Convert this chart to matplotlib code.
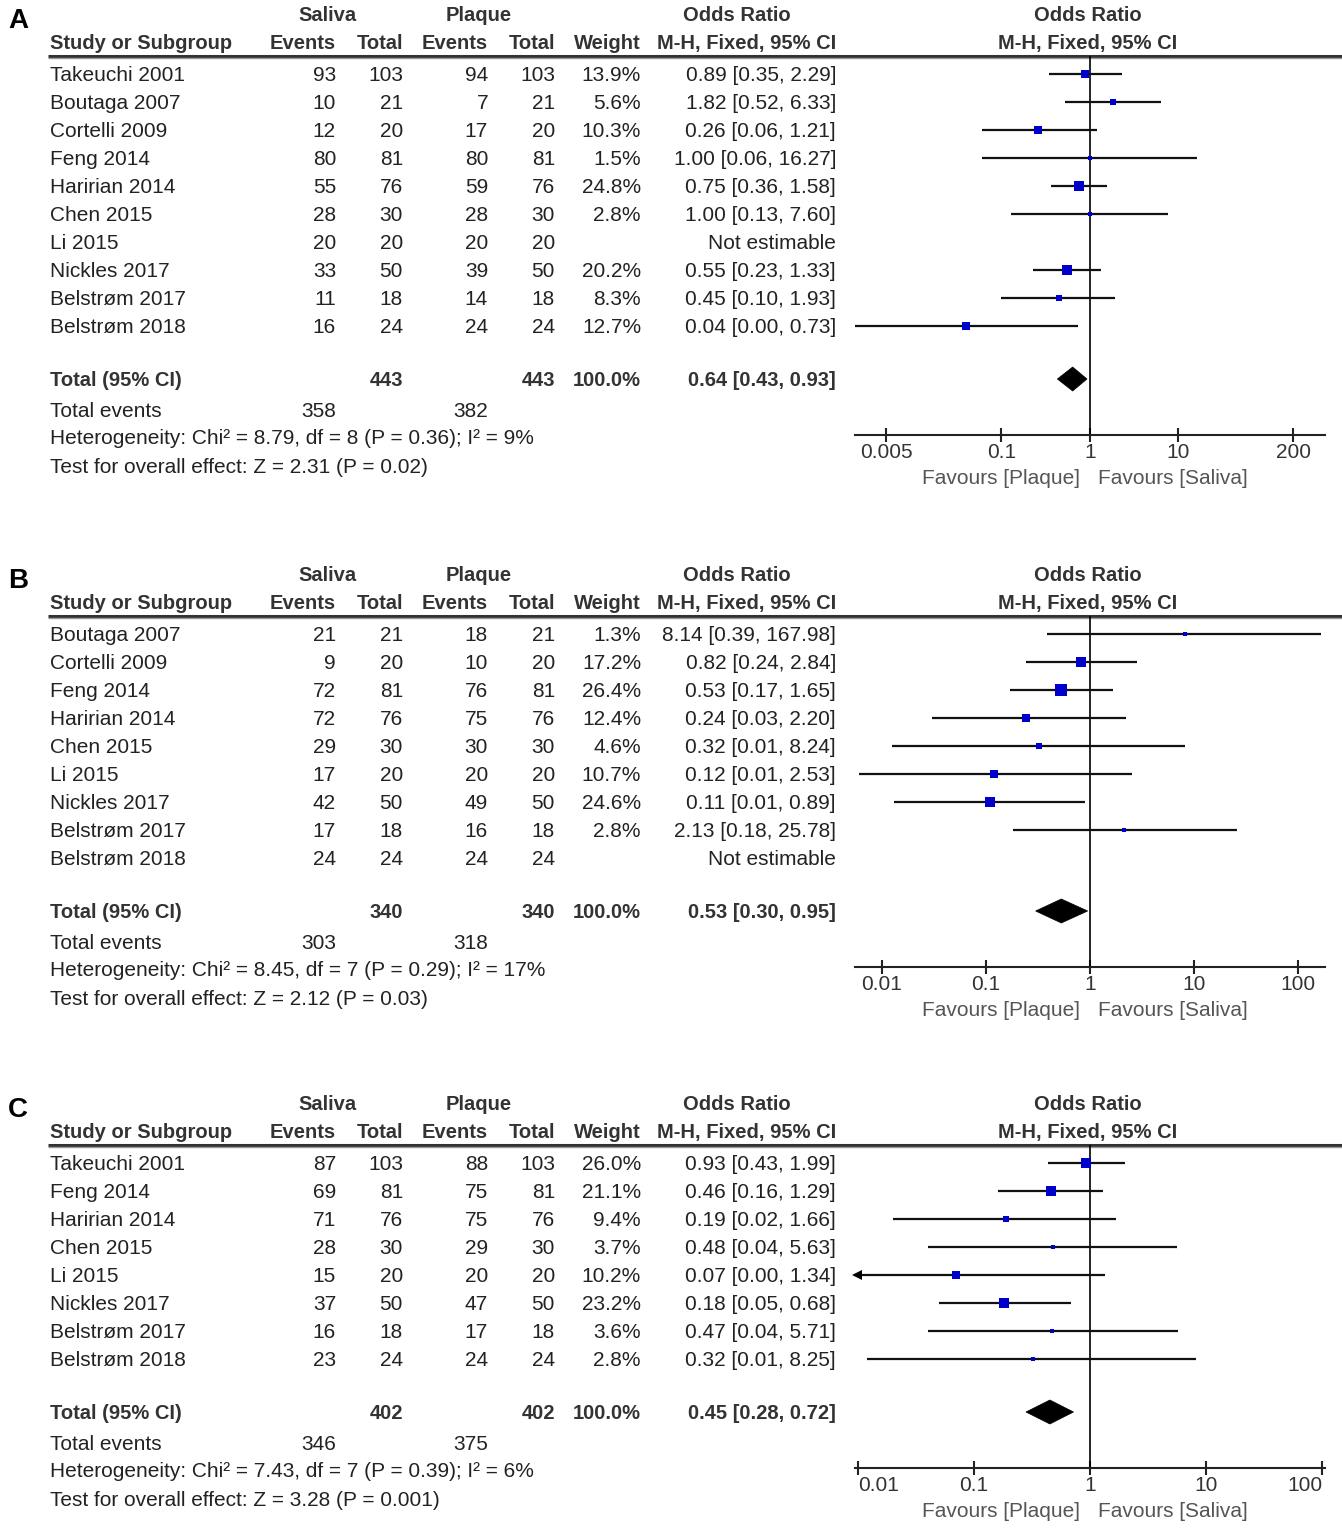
import matplotlib
matplotlib.use('Agg')
import matplotlib.pyplot as plt
from matplotlib.patches import Polygon
from matplotlib.ticker import FixedLocator, FixedFormatter, NullLocator
import numpy as np

W, H = 1342, 1532
plt.rcParams['font.family'] = ['Liberation Sans', 'DejaVu Sans']

# ---------------- Panel A ----------------
a_study = ["Takeuchi 2001", "Boutaga 2007", "Cortelli 2009", "Feng 2014", "Haririan 2014",
           "Chen 2015", "Li 2015", "Nickles 2017", "Belstrøm 2017", "Belstrøm 2018"]
a_sal_ev = [93, 10, 12, 80, 55, 28, 20, 33, 11, 16]
a_sal_tot = [103, 21, 20, 81, 76, 30, 20, 50, 18, 24]
a_pla_ev = [94, 7, 17, 80, 59, 28, 20, 39, 14, 24]
a_pla_tot = [103, 21, 20, 81, 76, 30, 20, 50, 18, 24]
a_weight = [13.9, 5.6, 10.3, 1.5, 24.8, 2.8, None, 20.2, 8.3, 12.7]
a_or = [0.89, 1.82, 0.26, 1.00, 0.75, 1.00, None, 0.55, 0.45, 0.04]
a_lo = [0.35, 0.52, 0.06, 0.06, 0.36, 0.13, None, 0.23, 0.10, 0.0022]
a_hi = [2.29, 6.33, 1.21, 16.27, 1.58, 7.60, None, 1.33, 1.93, 0.73]
a_total = (443, 443, "100.0%", 0.64, 0.43, 0.93)
a_events = (358, 382)
a_het = "Heterogeneity: Chi² = 8.79, df = 8 (P = 0.36); I² = 9%"
a_test = "Test for overall effect: Z = 2.31 (P = 0.02)"
a_xlim = (0.0022, 460)
a_ticks = [0.005, 0.1, 1, 10, 200]
a_ticklabels = ["0.005", "0.1", "1", "10", "200"]
a_tick_ha = ["center"] * 5

# ---------------- Panel B ----------------
b_study = ["Boutaga 2007", "Cortelli 2009", "Feng 2014", "Haririan 2014", "Chen 2015",
           "Li 2015", "Nickles 2017", "Belstrøm 2017", "Belstrøm 2018"]
b_sal_ev = [21, 9, 72, 72, 29, 17, 42, 17, 24]
b_sal_tot = [21, 20, 81, 76, 30, 20, 50, 18, 24]
b_pla_ev = [18, 10, 76, 75, 30, 20, 49, 16, 24]
b_pla_tot = [21, 20, 81, 76, 30, 20, 50, 18, 24]
b_weight = [1.3, 17.2, 26.4, 12.4, 4.6, 10.7, 24.6, 2.8, None]
b_or = [8.14, 0.82, 0.53, 0.24, 0.32, 0.12, 0.11, 2.13, None]
b_lo = [0.39, 0.24, 0.17, 0.03, 0.0125, 0.006, 0.013, 0.18, None]
b_hi = [167.98, 2.84, 1.65, 2.20, 8.24, 2.53, 0.89, 25.78, None]
b_total = (340, 340, "100.0%", 0.53, 0.30, 0.95)
b_events = (303, 318)
b_het = "Heterogeneity: Chi² = 8.45, df = 7 (P = 0.29); I² = 17%"
b_test = "Test for overall effect: Z = 2.12 (P = 0.03)"
b_xlim = (0.0055, 182)
b_ticks = [0.01, 0.1, 1, 10, 100]
b_ticklabels = ["0.01", "0.1", "1", "10", "100"]
b_tick_ha = ["center"] * 5

# ---------------- Panel C ----------------
c_study = ["Takeuchi 2001", "Feng 2014", "Haririan 2014", "Chen 2015", "Li 2015",
           "Nickles 2017", "Belstrøm 2017", "Belstrøm 2018"]
c_sal_ev = [87, 69, 71, 28, 15, 37, 16, 23]
c_sal_tot = [103, 81, 76, 30, 20, 50, 18, 24]
c_pla_ev = [88, 75, 75, 29, 20, 47, 17, 24]
c_pla_tot = [103, 81, 76, 30, 20, 50, 18, 24]
c_weight = [26.0, 21.1, 9.4, 3.7, 10.2, 23.2, 3.6, 2.8]
c_or = [0.93, 0.46, 0.19, 0.48, 0.07, 0.18, 0.47, 0.32]
c_lo = [0.43, 0.16, 0.02, 0.04, 0.003, 0.05, 0.04, 0.012]
c_hi = [1.99, 1.29, 1.66, 5.63, 1.34, 0.68, 5.71, 8.25]
c_total = (402, 402, "100.0%", 0.45, 0.28, 0.72)
c_events = (346, 375)
c_het = "Heterogeneity: Chi² = 7.43, df = 7 (P = 0.39); I² = 6%"
c_test = "Test for overall effect: Z = 3.28 (P = 0.001)"
c_xlim = (0.0094, 106)
c_ticks = [0.01, 0.1, 1, 10, 100]
c_ticklabels = ["0.01", "0.1", "1", "10", "100"]
c_tick_ha = ["left", "center", "center", "center", "right"]

panels = [
    dict(letter="A", base=14, study=a_study, se=a_sal_ev, st=a_sal_tot, pe=a_pla_ev, pt=a_pla_tot,
         w=a_weight, orr=a_or, lo=a_lo, hi=a_hi, total=a_total, events=a_events, het=a_het,
         test=a_test, xlim=a_xlim, ticks=a_ticks, tl=a_ticklabels, tha=a_tick_ha),
    dict(letter="B", base=574, study=b_study, se=b_sal_ev, st=b_sal_tot, pe=b_pla_ev, pt=b_pla_tot,
         w=b_weight, orr=b_or, lo=b_lo, hi=b_hi, total=b_total, events=b_events, het=b_het,
         test=b_test, xlim=b_xlim, ticks=b_ticks, tl=b_ticklabels, tha=b_tick_ha),
    dict(letter="C", base=1103, study=c_study, se=c_sal_ev, st=c_sal_tot, pe=c_pla_ev, pt=c_pla_tot,
         w=c_weight, orr=c_or, lo=c_lo, hi=c_hi, total=c_total, events=c_events, het=c_het,
         test=c_test, xlim=c_xlim, ticks=c_ticks, tl=c_ticklabels, tha=c_tick_ha),
]

FS = 15
FSB = 14.5
TXT = '#222222'
HDR = '#333333'
BLUE = '#0000CC'

fig = plt.figure(figsize=(W / 100, H / 100), dpi=100)
tax = fig.add_axes([0, 0, 1, 1])
tax.set_xlim(0, W)
tax.set_ylim(H, 0)
tax.axis('off')


def txt(x, yc, s, ha='left', bold=False, color=TXT):
    tax.text(x, yc + 7, s, ha=ha, va='baseline', fontsize=FSB if bold else FS,
             fontweight='bold' if bold else 'normal', color=color)


col_r = [336, 403, 488, 555, 641, 836]


def fmt_ci(o, l, h):
    return f"{o:.2f} [{l:.2f}, {h:.2f}]"


for p in panels:
    base = p['base']
    n = len(p['study'])
    y_h1, y_h2, y_line = base, base + 28, base + 42
    rows_y = [base + 60 + 28 * i for i in range(n)]
    y_tot = rows_y[-1] + 53
    y_ev, y_het, y_test = y_tot + 31, y_tot + 58, y_tot + 87
    y_axis = y_het - 2

    # panel letter
    tax.text(8, base + 14, p['letter'], ha='left', va='baseline', fontsize=20,
             fontweight='bold', color='black')

    # headers
    txt(327, y_h1, "Saliva", ha='center', bold=True, color=HDR)
    txt(479, y_h1, "Plaque", ha='center', bold=True, color=HDR)
    txt(737, y_h1, "Odds Ratio", ha='center', bold=True, color=HDR)
    txt(1088, y_h1, "Odds Ratio", ha='center', bold=True, color=HDR)
    txt(50, y_h2, "Study or Subgroup", bold=True, color=HDR)
    for x, s in zip(col_r, ["Events", "Total", "Events", "Total", "Weight", "M-H, Fixed, 95% CI"]):
        txt(x, y_h2, s, ha='right', bold=True, color=HDR)
    txt(1088, y_h2, "M-H, Fixed, 95% CI", ha='center', bold=True, color=HDR)
    tax.plot([48, W], [y_line, y_line], color='#333333', lw=2.2, solid_capstyle='butt')
    tax.plot([48, W], [y_line + 2, y_line + 2], color='#999999', lw=1.0, solid_capstyle='butt')

    # rows
    for i in range(n):
        y = rows_y[i]
        txt(50, y, p['study'][i])
        txt(col_r[0], y, str(p['se'][i]), ha='right')
        txt(col_r[1], y, str(p['st'][i]), ha='right')
        txt(col_r[2], y, str(p['pe'][i]), ha='right')
        txt(col_r[3], y, str(p['pt'][i]), ha='right')
        if p['w'][i] is None:
            txt(col_r[5], y, "Not estimable", ha='right')
        else:
            txt(col_r[4], y, f"{p['w'][i]:.1f}%", ha='right')
            txt(col_r[5], y, fmt_ci(p['orr'][i], p['lo'][i], p['hi'][i]), ha='right')

    # totals
    t = p['total']
    txt(50, y_tot, "Total (95% CI)", bold=True, color=HDR)
    txt(col_r[1], y_tot, str(t[0]), ha='right', bold=True, color=HDR)
    txt(col_r[3], y_tot, str(t[1]), ha='right', bold=True, color=HDR)
    txt(col_r[4], y_tot, t[2], ha='right', bold=True, color=HDR)
    txt(col_r[5], y_tot, fmt_ci(t[3], t[4], t[5]), ha='right', bold=True, color=HDR)
    txt(50, y_ev, "Total events")
    txt(col_r[0], y_ev, str(p['events'][0]), ha='right')
    txt(col_r[2], y_ev, str(p['events'][1]), ha='right')
    txt(50, y_het, p['het'])
    txt(50, y_test, p['test'])

    # forest axes
    x0, x1 = 855, 1325
    ax = fig.add_axes([x0 / W, 1 - y_axis / H, (x1 - x0) / W, (y_axis - y_line) / H])
    ax.set_xscale('log')
    ax.set_xlim(p['xlim'])
    ax.set_ylim(y_axis, y_line)
    ax.patch.set_alpha(0)
    for s in ['top', 'left', 'right']:
        ax.spines[s].set_visible(False)
    ax.spines['bottom'].set_linewidth(1.5)
    ax.spines['bottom'].set_color('#222222')
    ax.set_yticks([])
    ax.xaxis.set_major_locator(FixedLocator(p['ticks']))
    ax.xaxis.set_major_formatter(FixedFormatter(p['tl']))
    ax.xaxis.set_minor_locator(NullLocator())
    ax.tick_params(axis='x', direction='inout', length=10, width=1.5, pad=1,
                   labelsize=FS, labelcolor='#333333', color='#222222')
    for lab, ha in zip(ax.get_xticklabels(), p['tha']):
        lab.set_ha(ha)
    ax.axvline(1, color='black', lw=1.2, zorder=2)

    xmin = p['xlim'][0]
    for i in range(n):
        if p['orr'][i] is None:
            continue
        y = rows_y[i]
        lo, hi = p['lo'][i], p['hi'][i]
        if lo < xmin:
            ax.plot([xmin, hi], [y, y], color='#111111', lw=1.6, solid_capstyle='butt',
                    clip_on=False, zorder=3)
            ax.plot([xmin * 1.05], [y], marker='<', ms=7, color='black', mew=0, clip_on=False, zorder=4)
        else:
            ax.plot([lo, hi], [y, y], color='#111111', lw=1.6, solid_capstyle='butt', zorder=3)
        side_px = 2.0 * np.sqrt(p['w'][i]) + 0.8
        ax.plot([p['orr'][i]], [y], marker='s', ms=side_px * 0.72, color=BLUE, mew=0, zorder=5)

    dia = Polygon([(t[4], y_tot), (t[3], y_tot - 12), (t[5], y_tot), (t[3], y_tot + 12)],
                  closed=True, facecolor='black', edgecolor='black', lw=0.5, zorder=5)
    ax.add_patch(dia)

    txt(1080, y_axis + 42, "Favours [Plaque]", ha='right', color='#555555')
    txt(1098, y_axis + 42, "Favours [Saliva]", ha='left', color='#555555')

fig.savefig('out.png', dpi=100)
